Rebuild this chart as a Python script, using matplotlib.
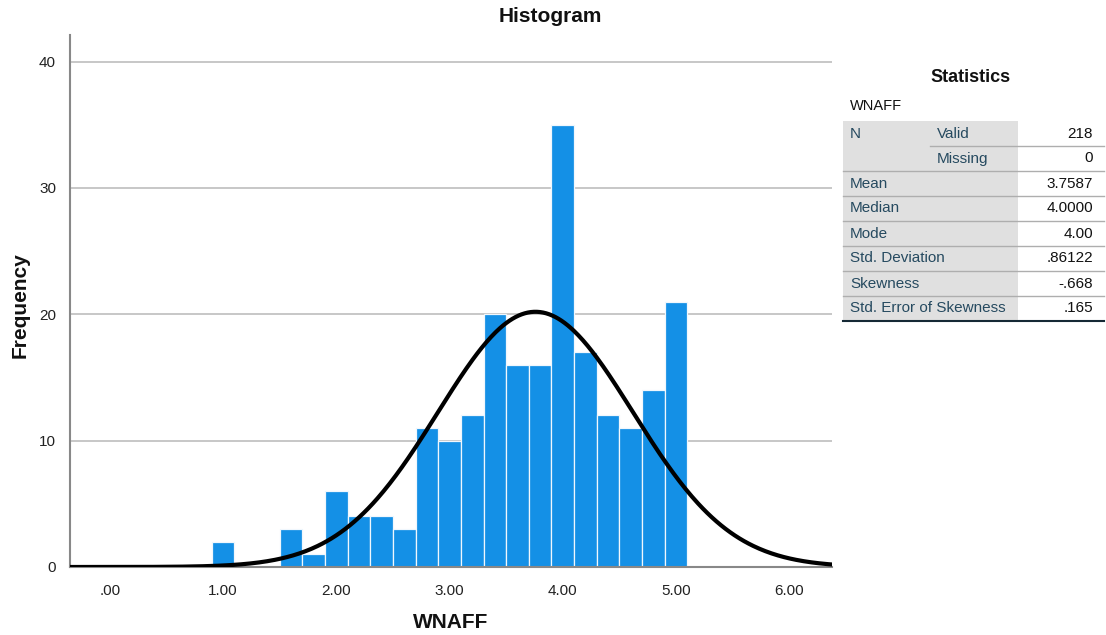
import numpy as np
import matplotlib
matplotlib.use("Agg")
import matplotlib.pyplot as plt
from matplotlib.patches import Rectangle

plt.rcParams['font.family'] = ['Liberation Sans', 'DejaVu Sans']

# histogram of WNAFF, bin width 0.2
bin_centers = [1.0, 1.6, 1.8, 2.0, 2.2, 2.4, 2.6, 2.8, 3.0, 3.2, 3.4, 3.6,
               3.8, 4.0, 4.2, 4.4, 4.6, 4.8, 5.0]
counts = [2, 3, 1, 6, 4, 4, 3, 11, 10, 12, 20, 16, 16, 35, 17, 12, 11, 14, 21]
bin_width = 0.2

# descriptive statistics
n_valid = 218
n_missing = 0
mean = 3.7587
median = 4.0
mode = 4.0
std = 0.86122
skew = -0.668
se_skew = 0.165

stat_labels = ["Mean", "Median", "Mode", "Std. Deviation", "Skewness",
               "Std. Error of Skewness"]
stat_values = [f"{mean:.4f}", f"{median:.4f}", f"{mode:.2f}",
               f"{std:.5f}".lstrip("0"), f"{skew:.3f}".replace("0.", "."),
               f"{se_skew:.3f}".lstrip("0")]

fig = plt.figure(figsize=(11.06, 6.35), dpi=100)
ax = fig.add_axes([70 / 1106, 1 - 567 / 635, (832 - 70) / 1106, (567 - 35) / 635])

ax.bar(bin_centers, counts, width=bin_width, color="#1490E6",
       edgecolor="#F0F7FD", linewidth=0.9, zorder=2)

xs = np.linspace(-0.36, 6.4, 500)
pdf = np.exp(-0.5 * ((xs - mean) / std) ** 2) / (std * np.sqrt(2 * np.pi))
ax.plot(xs, n_valid * bin_width * pdf, color="black", lw=3, zorder=3)

ax.set_xlim(-0.353, 6.378)
ax.set_ylim(0, 42.1)
ax.set_xticks(range(7))
ax.set_xticklabels([".00", "1.00", "2.00", "3.00", "4.00", "5.00", "6.00"])
ax.set_yticks([0, 10, 20, 30, 40])
ax.tick_params(length=0, labelsize=11, colors="#222222", pad=10)
ax.tick_params(axis="x", pad=12)
ax.yaxis.grid(True, color="#BDBDBD", lw=1.2, zorder=0)
ax.set_axisbelow(True)
for side in ("top", "right"):
    ax.spines[side].set_visible(False)
ax.spines["left"].set_color("#888888")
ax.spines["bottom"].set_color("#888888")
ax.spines["left"].set_linewidth(1.5)
ax.spines["bottom"].set_linewidth(1.5)

# overlay in pixel units for titles and the statistics table
tab = fig.add_axes([0, 0, 1, 1])
tab.set_xlim(0, 1106)
tab.set_ylim(635, 0)
tab.axis("off")

tab.text(550, 17, "Histogram", ha="center", va="center", fontsize=15,
         fontweight="bold", color="#111111")
tab.text(451, 622, "WNAFF", ha="center", va="center", fontsize=15,
         fontweight="bold", color="#111111")
tab.text(20, 305, "Frequency", ha="center", va="center", fontsize=15,
         fontweight="bold", color="#111111", rotation=90)

label_col = "#264A60"
x0, x_split, x1 = 843, 1018, 1104
top, row_h = 121, 25
n_rows = 8

tab.text(971, 78, "Statistics", ha="center", va="center", fontsize=13,
         fontweight="bold", color="#111111")
tab.text(850, 106, "WNAFF", ha="left", va="center", fontsize=10.5,
         color="#111111")

tab.add_patch(Rectangle((x0, top), x_split - x0, row_h * n_rows,
                        facecolor="#E0E0E0", edgecolor="none"))

rows = [("N", "Valid", str(n_valid)), ("", "Missing", str(n_missing))]
rows += [(lab, "", val) for lab, val in zip(stat_labels, stat_values)]

for i, (lab, sub, val) in enumerate(rows):
    yc = top + row_h * (i + 0.5)
    if lab:
        tab.text(850, yc, lab, ha="left", va="center", fontsize=11,
                 color=label_col)
    if sub:
        tab.text(937, yc, sub, ha="left", va="center", fontsize=11,
                 color=label_col)
    tab.text(1093, yc, val, ha="right", va="center", fontsize=11,
             color="#111111")
    yb = top + row_h * (i + 1)
    if i == 0:
        tab.plot([930, x1], [yb, yb], color="#AEAEAE", lw=1)
    elif i < n_rows - 1:
        tab.plot([x0, x1], [yb, yb], color="#AEAEAE", lw=1)
    else:
        tab.plot([x0, x1], [yb, yb], color="#152935", lw=1.5)

fig.savefig("out.png", dpi=100)
